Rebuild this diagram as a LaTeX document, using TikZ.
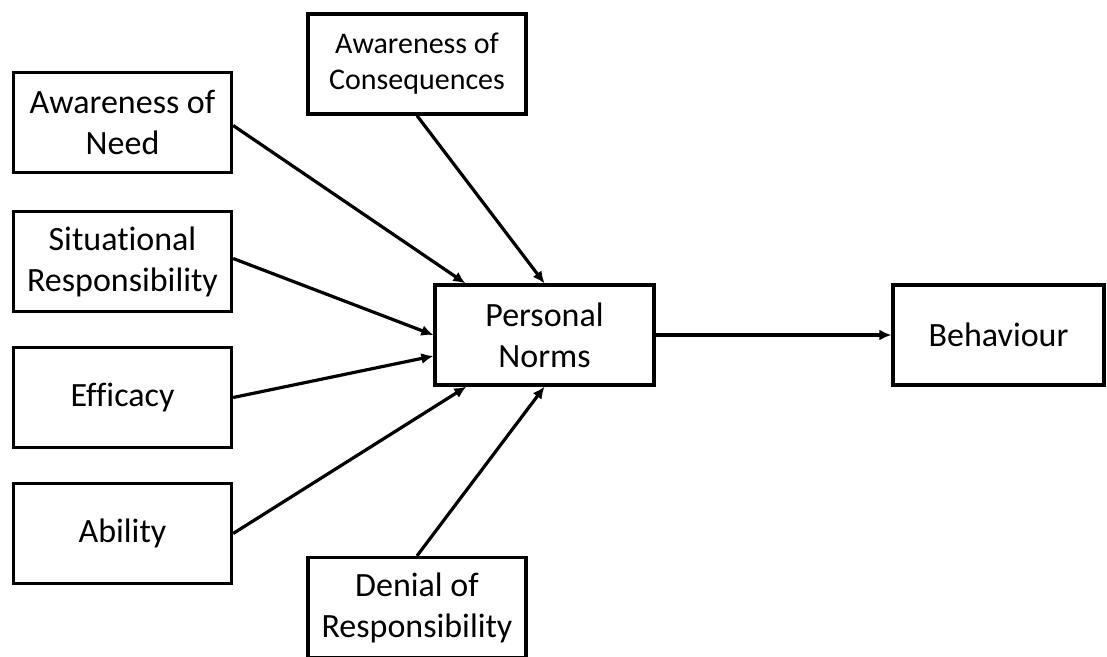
\documentclass[tikz,border=0pt]{standalone}
\usepackage{fontspec}
\setmainfont[Ligatures={NoCommon}]{Carlito}
\usetikzlibrary{arrows.meta}

\begin{document}
\begin{tikzpicture}[x=1pt,y=-1pt,
  box/.style={draw,line width=3.3pt,minimum width=218pt,minimum height=100pt,
    inner sep=0pt,align=center,font=\fontsize{34}{41}\selectfont},
  link/.style={line width=3.2pt,-{Latex[length=12pt,width=11pt]}}]
\useasboundingbox (0,0) rectangle (1107,656);

\node [box] (need) at (122.5,122.5) {Awareness of\\Need};
\node [box] (sitresp) at (122.5,261.5) {Situational\\Responsibility};
\node [box] (efficacy) at (122.5,397.5) {Efficacy};
\node [box] (ability) at (122.5,533.5) {Ability};
\node [box,font=\fontsize{30}{36}\selectfont] (conseq) at (417,64) {Awareness of\\Consequences};
\node [box] (denial) at (417,607.5) {Denial of\\Responsibility};
\node [box,minimum width=219pt] (norms) at (544.5,335) {Personal\\Norms};
\node [box,minimum width=211pt] (behaviour) at (998.5,335) {Behaviour};

\draw [link] ([yshift=-3pt]need.east) -- ([xshift=32pt]norms.north west);
\draw [link] (conseq.south) -- (norms.north);
\draw [link] ([yshift=3pt]sitresp.east) -- (norms.west);
\draw [link] (efficacy.east) -- ([yshift=-21pt]norms.west);
\draw [link] (ability.east) -- ([xshift=33pt]norms.south west);
\draw [link] (denial.north) -- (norms.south);
\draw [link] (norms.east) -- (behaviour.west);
\end{tikzpicture}
\end{document}
